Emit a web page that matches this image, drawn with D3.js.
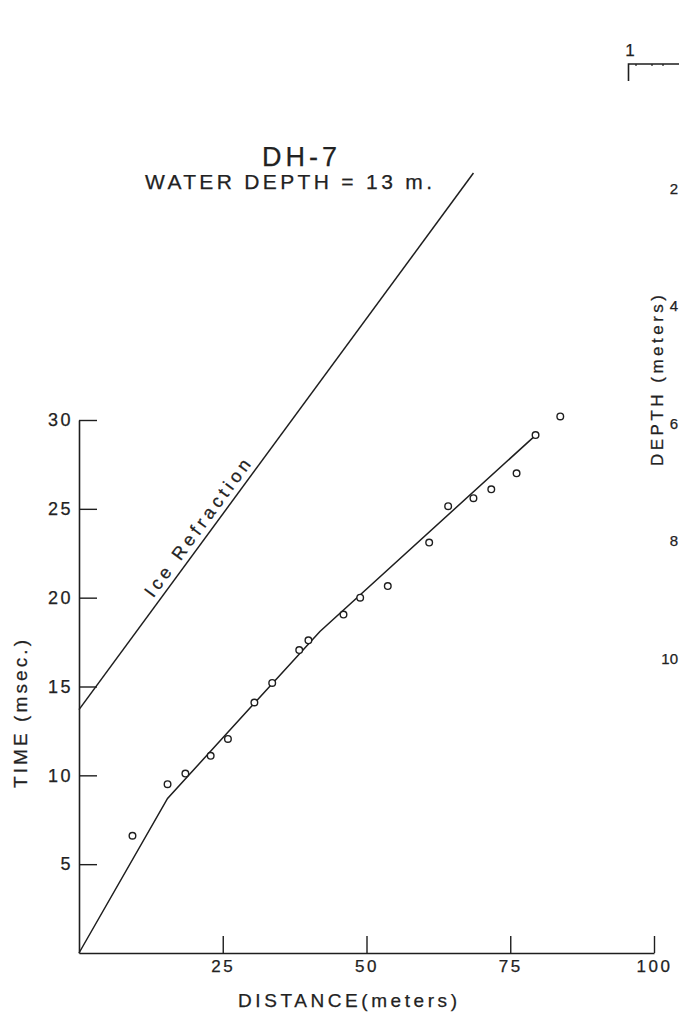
<!DOCTYPE html>
<html>
<head>
<meta charset="utf-8">
<script src="https://cdn.jsdelivr.net/npm/d3@7"></script>
<style>
  html, body { margin: 0; padding: 0; background: #fff; }
  svg { display: block; }
  text { font-family: "Liberation Sans", Arial, sans-serif; fill: #222; stroke: #222; stroke-width: 0.25px; }
</style>
</head>
<body>
<script>
// Travel-time observations, hole DH-7
const distances = [9.3, 15.4, 18.5, 22.9, 25.9, 30.5, 33.6, 38.3, 39.9, 46.0,
                   48.9, 53.7, 60.9, 64.2, 68.6, 71.7, 76.1, 79.4, 83.7];
const times     = [6.6, 9.5, 10.1, 11.1, 12.05, 14.1, 15.2, 17.05, 17.6, 19.05,
                   20.0, 20.65, 23.1, 25.15, 25.6, 26.1, 27.0, 29.15, 30.2];

// Segmented travel-time curve through the observations
const fitDistances = [0, 15.4, 41.9, 79.1];
const fitTimes     = [0, 8.7, 18.1, 29.05];

// Ice refraction line
const iceDistances = [0, 68.6];
const iceTimes     = [13.7, 43.9];

// Tick values
const xTicks = [25, 50, 75, 100];
const yTicks = [5, 10, 15, 20, 25, 30];
const depthTicks = [2, 4, 6, 8, 10];

const W = 679, H = 1014;
const ink = "#1e1e1e";
const font = '"Liberation Sans", Arial, sans-serif';

const svg = d3.select("body").append("svg")
  .attr("width", W).attr("height", H);

const x = d3.scaleLinear().domain([0, 100]).range([79, 654]);
const y = d3.scaleLinear().domain([0, 30]).range([953, 420]);

// Axes with inward ticks
const xAxis = d3.axisBottom(x).tickValues(xTicks).tickSize(-17)
  .tickSizeOuter(0).tickPadding(7).tickFormat(d3.format("d"));
const yAxis = d3.axisLeft(y).tickValues(yTicks).tickSize(-18)
  .tickSizeOuter(0).tickPadding(6).tickFormat(d3.format("d"));

const gx = svg.append("g").attr("transform", `translate(0,${y(0)})`).call(xAxis);
const gy = svg.append("g").attr("transform", `translate(${x(0)},0)`).call(yAxis);

[gx, gy].forEach(g => {
  g.select(".domain").attr("stroke", ink).attr("stroke-width", 1.6);
  g.selectAll(".tick line").attr("stroke", ink).attr("stroke-width", 1.4);
  g.selectAll(".tick text")
    .style("font-family", font)
    .style("font-size", "17px").style("letter-spacing", "2.5px")
    .attr("fill", "#222");
});
gy.selectAll(".tick text").style("font-size", "18px");

// Ice refraction line
const line = d3.line().x(d => x(d[0])).y(d => y(d[1]));
svg.append("path")
  .datum(d3.zip(iceDistances, iceTimes))
  .attr("d", line)
  .attr("fill", "none").attr("stroke", ink).attr("stroke-width", 1.5);

// Label along the ice refraction line
{
  const p0 = [x(iceDistances[0]), y(iceTimes[0])];
  const p1 = [x(iceDistances[1]), y(iceTimes[1])];
  const dx = p1[0] - p0[0], dy = p1[1] - p0[1];
  const len = Math.hypot(dx, dy);
  const ux = dx / len, uy = dy / len;
  const nx = uy, ny = -ux;
  const f = 0.325, off = 6;
  const cx = p0[0] + f * dx + off * nx;
  const cy = p0[1] + f * dy + off * ny;
  const ang = Math.atan2(dy, dx) * 180 / Math.PI;
  svg.append("text")
    .attr("transform", `translate(${cx},${cy}) rotate(${ang})`)
    .attr("text-anchor", "middle")
    .attr("textLength", 166).attr("lengthAdjust", "spacing")
    .style("font-size", "18px")
    .text("Ice Refraction");
}

// Fitted travel-time curve
svg.append("path")
  .datum(d3.zip(fitDistances, fitTimes))
  .attr("d", line)
  .attr("fill", "none").attr("stroke", ink).attr("stroke-width", 1.5);

// Observed arrivals
svg.append("g").selectAll("circle")
  .data(d3.zip(distances, times))
  .join("circle")
  .attr("cx", d => x(d[0])).attr("cy", d => y(d[1]))
  .attr("r", 3.3)
  .attr("fill", "#fff").attr("stroke", ink).attr("stroke-width", 1.4);

// Titles
svg.append("text").attr("x", 262).attr("y", 166)
  .attr("textLength", 75).attr("lengthAdjust", "spacing")
  .style("font-size", "27px").text("DH-7");
svg.append("text").attr("x", 145).attr("y", 189)
  .attr("textLength", 287).attr("lengthAdjust", "spacing")
  .style("font-size", "21px").text("WATER  DEPTH = 13 m.");

// Axis titles
svg.append("text").attr("x", 238).attr("y", 1007)
  .attr("textLength", 219).attr("lengthAdjust", "spacing")
  .style("font-size", "19px").text("DISTANCE(meters)");
svg.append("text")
  .attr("transform", "translate(27,788) rotate(-90)")
  .attr("textLength", 148).attr("lengthAdjust", "spacing")
  .style("font-size", "19px").text("TIME (msec.)");

// Neighbouring depth profile panel at the right edge
const depth = d3.scaleLinear().domain([0, 10]).range([70, 658]);
svg.append("text")
  .attr("transform", "translate(663,466) rotate(-90)")
  .attr("textLength", 171).attr("lengthAdjust", "spacing")
  .style("font-size", "17px").text("DEPTH (meters)");
svg.append("g").selectAll("text")
  .data(depthTicks).join("text")
  .attr("x", 678).attr("y", d => depth(d) + 6)
  .attr("text-anchor", "end")
  .style("font-size", "15px")
  .text(d => d);
svg.append("text").attr("x", 630).attr("y", 56)
  .attr("text-anchor", "middle")
  .style("font-size", "17px").text("1");
svg.append("path")
  .attr("d", "M628.5,81V64H679")
  .attr("fill", "none").attr("stroke", ink).attr("stroke-width", 1.6);
svg.append("g").selectAll("line")
  .data([636, 652, 663]).join("line")
  .attr("x1", d => d).attr("x2", d => d).attr("y1", 64).attr("y2", 66)
  .attr("stroke", ink).attr("stroke-width", 1.2);
</script>
</body>
</html>
